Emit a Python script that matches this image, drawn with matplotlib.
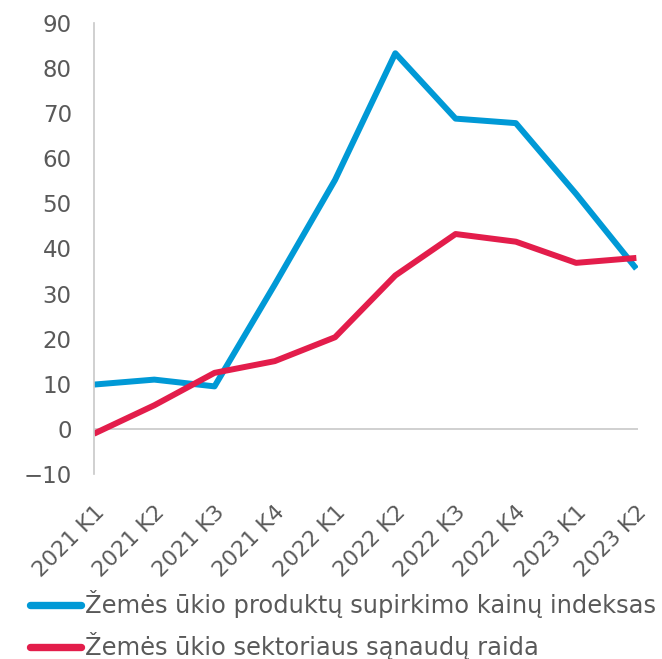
import matplotlib
matplotlib.use("Agg")
import matplotlib.pyplot as plt

# ketvirčiai
quarters = ['2021 K1', '2021 K2', '2021 K3', '2021 K4', '2022 K1',
            '2022 K2', '2022 K3', '2022 K4', '2023 K1', '2023 K2']
# supirkimo kainų indeksas
price_index = [9.8, 10.9, 9.4, 32.0, 55.2, 83.3, 68.8, 67.8, 52.1, 35.5]
# sąnaudų raida
input_costs = [-1.1, 5.2, 12.4, 15.0, 20.3, 34.0, 43.2, 41.5, 36.8, 37.9]

labels = ['Žemės ūkio produktų supirkimo kainų indeksas',
          'Žemės ūkio sektoriaus sąnaudų raida']
BLUE = '#0099D6'
RED = '#E31D4B'
GRAY = '#595959'

plt.rcParams['font.family'] = ['DejaVu Sans']
fig = plt.figure(figsize=(6.62, 6.59), dpi=100)
ax = fig.add_axes([0.142, 0.281, 0.822, 0.684])

x = range(len(quarters))
l1, = ax.plot(x, price_index, color=BLUE, lw=4.3, solid_capstyle='butt')
l2, = ax.plot(x, input_costs, color=RED, lw=4.3, solid_capstyle='butt')

ax.set_xlim(0, 9.03)
ax.set_ylim(-10, 90)
ax.set_yticks(range(-10, 91, 10))
ax.set_yticklabels(['−10'] + [str(v) for v in range(0, 91, 10)])
ax.set_xticks(list(x))
ax.set_xticklabels(quarters, rotation=45, ha='right', rotation_mode='anchor')
ax.tick_params(axis='y', length=0, labelsize=16.5, labelcolor=GRAY, pad=16)
ax.tick_params(axis='x', length=0, labelsize=15.8, labelcolor=GRAY, pad=20)

for s in ['top', 'right', 'bottom']:
    ax.spines[s].set_visible(False)
ax.spines['left'].set_color('#C8C8C8')
ax.spines['left'].set_linewidth(1.2)
ax.axhline(0, color='#C8C8C8', lw=1.2, zorder=1)

leg = fig.legend([l1, l2], labels, loc='upper left',
                 bbox_to_anchor=(0.045, 0.104), frameon=False,
                 fontsize=17.4, handlelength=2.1, handletextpad=0.2,
                 labelspacing=0.58, borderaxespad=0, borderpad=0)
for t in leg.get_texts():
    t.set_color(GRAY)
for h in leg.get_lines():
    h.set_linewidth(5.3)
    h.set_solid_capstyle('round')

fig.savefig('out.png', dpi=100)
